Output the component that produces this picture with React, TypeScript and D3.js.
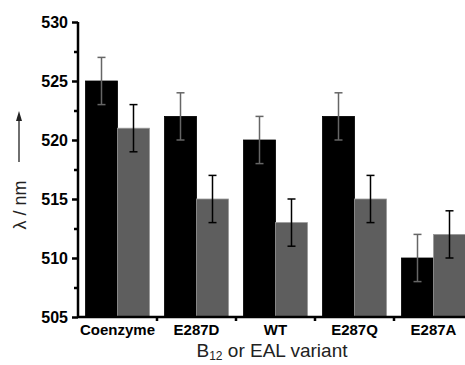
import React, { useEffect, useRef } from 'react';
import * as d3 from 'd3';

const categories = ['Coenzyme', 'E287D', 'WT', 'E287Q', 'E287A'];
const seriesA = [525, 522, 520, 522, 510];
const seriesB = [521, 515, 513, 515, 512];
const errA = [2, 2, 2, 2, 2];
const errB = [2, 2, 2, 2, 2];
const majorTicks = [505, 510, 515, 520, 525, 530];
const minorTicks = [507.5, 512.5, 517.5, 522.5, 527.5];

const App = () => {
  const svgRef = useRef<SVGSVGElement>(null);

  useEffect(() => {
    const svg = d3.select(svgRef.current);
    svg.selectAll('*').remove();

    const left = 78;
    const right = 473;
    const top = 22;
    const bottom = 317;
    const font = 'Arial, "Liberation Sans", sans-serif';

    const x0 = d3.scaleBand().domain(categories).range([left, right]).paddingInner(0.19).paddingOuter(0.095);
    const x1 = d3.scaleBand().domain(['a', 'b']).range([0, x0.bandwidth()]);
    const y = d3.scaleLinear().domain([505, 530]).range([bottom, top]);

    const series = [
      { key: 'a', values: seriesA, err: errA, fill: '#000000', stroke: '#000', errColor: '#666666' },
      { key: 'b', values: seriesB, err: errB, fill: '#5e5e5e', stroke: '#9a9a9a', errColor: '#000000' },
    ];

    const g = svg.append('g');
    series.forEach(s => {
      categories.forEach((c, i) => {
        const bx = (x0(c) as number) + (x1(s.key) as number);
        const bw = x1.bandwidth();
        g.append('rect')
          .attr('x', bx)
          .attr('y', y(s.values[i]))
          .attr('width', bw)
          .attr('height', y(505) - y(s.values[i]))
          .attr('fill', s.fill)
          .attr('stroke', s.stroke)
          .attr('stroke-width', 0.8);
        const cx = bx + bw / 2;
        const hi = y(s.values[i] + s.err[i]);
        const lo = y(s.values[i] - s.err[i]);
        g.append('line').attr('x1', cx).attr('x2', cx).attr('y1', hi).attr('y2', lo)
          .attr('stroke', s.errColor).attr('stroke-width', 1.5);
        [hi, lo].forEach(yy => {
          g.append('line').attr('x1', cx - 4).attr('x2', cx + 4).attr('y1', yy).attr('y2', yy)
            .attr('stroke', s.errColor).attr('stroke-width', 1.5);
        });
      });
    });

    // Y axis
    const yAxis = svg.append('g')
      .attr('transform', `translate(${left},0)`)
      .call(d3.axisLeft(y).tickValues(majorTicks).tickSize(6).tickFormat(d3.format('d')));
    yAxis.select('.domain').attr('stroke-width', 2.5).attr('d', `M0,${top}V${bottom}`);
    yAxis.selectAll('.tick line').attr('stroke-width', 2.5);
    yAxis.selectAll('.tick text')
      .attr('font-family', font).attr('font-size', 16).attr('font-weight', 'bold')
      .attr('fill', '#000').attr('x', -10);
    const yMinor = svg.append('g')
      .attr('transform', `translate(${left},0)`)
      .call(d3.axisLeft(y).tickValues(minorTicks).tickSize(4).tickFormat(() => ''));
    yMinor.select('.domain').remove();
    yMinor.selectAll('.tick line').attr('stroke-width', 2.5);

    // X axis
    const xAxis = svg.append('g')
      .attr('transform', `translate(0,${bottom})`)
      .call(d3.axisBottom(x0).tickSize(0).tickPadding(7));
    xAxis.select('.domain').attr('stroke-width', 2.5).attr('d', `M${left},0H${right}`);
    xAxis.selectAll('.tick text')
      .attr('font-family', font).attr('font-size', 15).attr('font-weight', 'bold').attr('fill', '#000');
    const step = x0.step();
    categories.slice(1).forEach(c => {
      const tx = (x0(c) as number) - x0.paddingInner() * step / 2;
      xAxis.append('line').attr('x1', tx).attr('x2', tx).attr('y1', 0).attr('y2', 4)
        .attr('stroke', '#000').attr('stroke-width', 2.5);
    });

    // Axis titles
    const xt = svg.append('text')
      .attr('x', 272).attr('y', 357).attr('text-anchor', 'middle')
      .attr('font-family', font).attr('font-size', 19).attr('fill', '#222');
    xt.append('tspan').text('B');
    xt.append('tspan').attr('font-size', 12).attr('dy', 3).text('12');
    xt.append('tspan').attr('dy', -3).text(' or EAL variant');

    svg.append('text')
      .attr('transform', 'translate(26,205) rotate(-90)')
      .attr('text-anchor', 'middle')
      .attr('font-family', font).attr('font-size', 18).attr('fill', '#222')
      .text('λ / nm');

    svg.append('line').attr('x1', 19).attr('x2', 19).attr('y1', 162).attr('y2', 118)
      .attr('stroke', '#222').attr('stroke-width', 1.3);
    svg.append('path').attr('d', 'M19,111 L16,121 L22,121 Z').attr('fill', '#222');
  }, []);

  return (
    <svg ref={svgRef} width={465} height={365} style={{ position: 'absolute', left: 0, top: 0 }}></svg>
  );
};

export default App;
